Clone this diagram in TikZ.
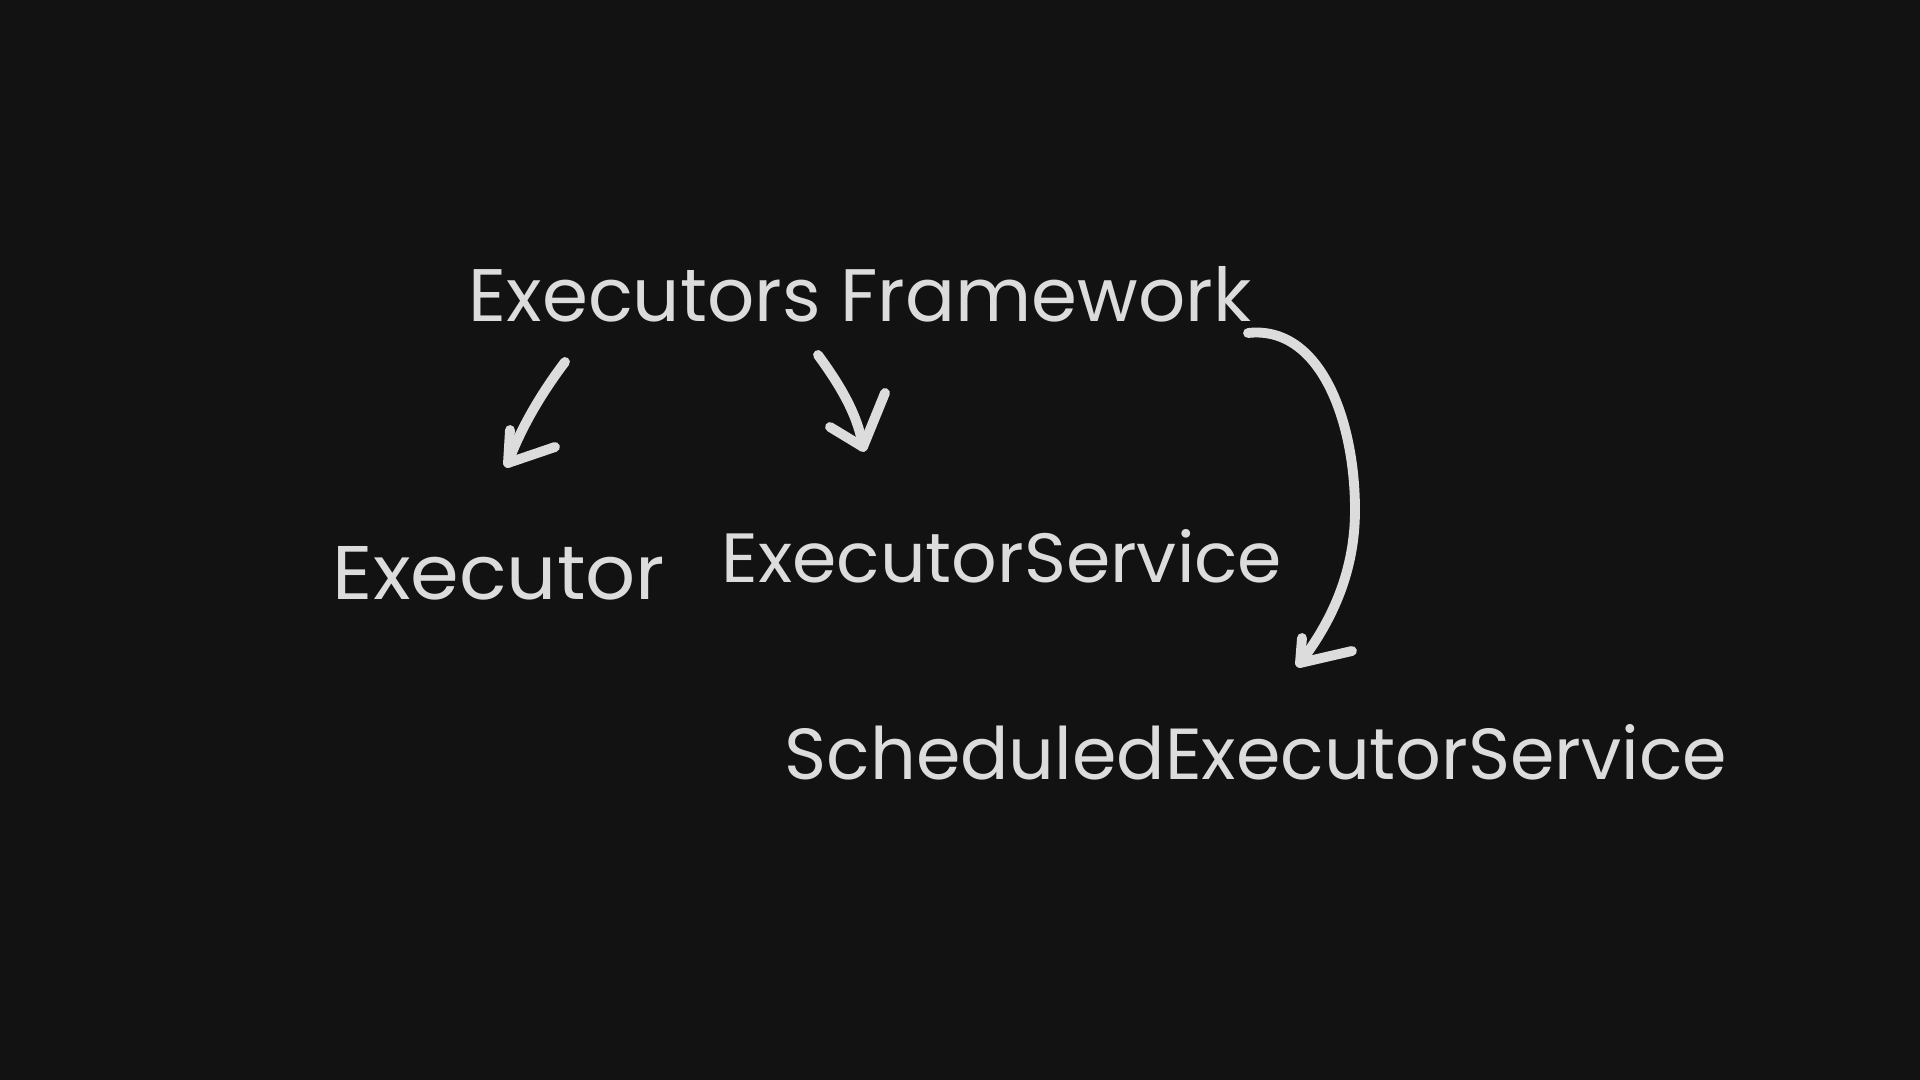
\documentclass[tikz,border=0pt]{standalone}
\usepackage{fontspec}
\setmainfont{Poppins}
\definecolor{bg}{HTML}{121212}
\definecolor{ink}{HTML}{DCDCDC}
\newcommand{\fitlabel}[3]{\resizebox{#1}{#2}{#3}}
\begin{document}
\begin{tikzpicture}[x=0.01cm,y=-0.01cm,
  lbl/.style={inner sep=0pt,outer sep=0pt,text=ink},
  stroke/.style={draw=ink,line width=2.8pt,line cap=round,line join=round}]
\fill[bg] (0,0) rectangle (1920,1080);
\useasboundingbox (0,0) rectangle (1920,1080);
\node[lbl] (ef)  at (860,294) {\fitlabel{7.82cm}{0.55cm}{Executors Framework}};
\node[lbl] (ex)  at (499,573) {\fitlabel{3.32cm}{0.53cm}{Executor}};
\node[lbl] (es)  at (1002,556) {\fitlabel{5.60cm}{0.53cm}{ExecutorService}};
\node[lbl] (ses) at (1256,752) {\fitlabel{9.42cm}{0.55cm}{ScheduledExecutorService}};
% arrow 1
\coordinate (a1s) at (565,362);
\coordinate (a1t) at (508,463);
\draw[stroke] (a1s) .. controls (540,395) and (520,430) .. (a1t);
\draw[stroke] (510,430) -- (a1t) -- (555,447);
% arrow 2
\coordinate (a2s) at (818,355);
\coordinate (a2t) at (863,447);
\draw[stroke] (a2s) .. controls (840,385) and (858,415) .. (a2t);
\draw[stroke] (830,427) -- (a2t) -- (885,393);
% arrow 3
\coordinate (a3s) at (1248,333);
\coordinate (a3t) at (1300,663);
\draw[stroke] (a3s) .. controls (1320,325) and (1355,420) .. (1355,510)
  .. controls (1355,580) and (1325,630) .. (a3t);
\draw[stroke] (1302,638) -- (a3t) -- (1352,651);
\end{tikzpicture}
\end{document}
